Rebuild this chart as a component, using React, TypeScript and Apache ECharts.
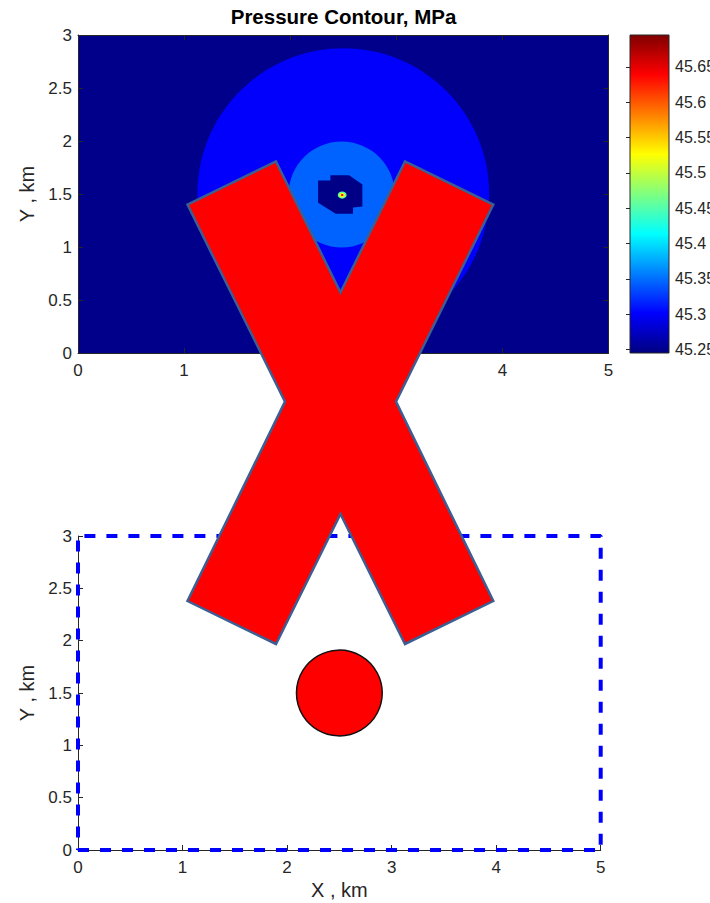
import React, { useEffect, useRef } from 'react';
import * as echarts from 'echarts';

// ---------- data ----------
const xTicks = [0, 1, 2, 3, 4, 5];
const yTicks = [0, 0.5, 1, 1.5, 2, 2.5, 3];
const colorbarTicks = [45.25, 45.3, 45.35, 45.4, 45.45, 45.5, 45.55, 45.6, 45.65];
const colorRange = [45.245, 45.695];

const backgroundPressure = 45.25;
const outerZoneCenter = [2.5, 1.5];
const outerZoneRadius = 1.375;
const outerZonePressure = 45.3;
const innerZoneCenter = [2.485, 1.495];
const innerZoneRadius = 0.5;
const innerZonePressure = 45.345;
const lowZonePolygon = [
  [2.263, 1.628], [2.379, 1.628], [2.379, 1.678], [2.555, 1.678], [2.68, 1.59],
  [2.68, 1.382], [2.592, 1.372], [2.592, 1.313], [2.429, 1.313], [2.263, 1.417],
];
const lowZonePressure = 45.248;
const wellCenter = [2.49, 1.49];
const wellRadiiX = [0.042, 0.027, 0.012];
const wellRadiiY = [0.034, 0.022, 0.01];
const wellPressures = [45.45, 45.53, 45.64];

// red "X" annotation, in km of the upper plot
const crossVertices = [
  [1.032, 1.4], [1.866, 1.807], [2.474, 0.571], [3.082, 1.807], [3.914, 1.4], [2.997, -0.459],
  [3.914, -2.34], [3.082, -2.745], [2.474, -1.519], [1.866, -2.745], [1.032, -2.34], [1.951, -0.459],
];

const domainRect = [[0, 0], [5, 0], [5, 3], [0, 3], [0, 0]];
const wellboreCenter = [2.5, 1.5];
const wellboreRadius = 0.41;

// ---------- helpers ----------
function jet(v: number): string {
  const t = (v - colorRange[0]) / (colorRange[1] - colorRange[0]);
  const c = (x: number) => Math.round(255 * Math.max(0, Math.min(1, x)));
  const r = c(Math.min(4 * t - 1.5, -4 * t + 4.5));
  const g = c(Math.min(4 * t - 0.5, -4 * t + 3.5));
  const b = c(Math.min(4 * t + 0.5, -4 * t + 2.5));
  return `rgb(${r},${g},${b})`;
}

const FONT = '"Liberation Sans", Arial, Helvetica, sans-serif';
const TXT = '#262626';
const TICK_FS = 17;
const NAME_FS = 20;

function axisCommon(extra: any) {
  return {
    type: 'value',
    splitLine: { show: false },
    axisLine: { show: true, onZero: false, lineStyle: { color: TXT, width: 1 } },
    axisTick: { show: true, inside: true, length: 5, lineStyle: { color: TXT } },
    axisLabel: { show: true, color: TXT, fontSize: TICK_FS, fontFamily: FONT, margin: 9 },
    nameTextStyle: { color: TXT, fontSize: NAME_FS, fontFamily: FONT },
    nameMoveOverlap: false,
    ...extra,
  };
}

export default function App() {
  const ref = useRef<HTMLDivElement>(null);
  useEffect(() => {
    if (!ref.current) return;
    const chart = echarts.init(ref.current, undefined, { renderer: 'svg' });
    const xMin = xTicks[0], xMax = xTicks[xTicks.length - 1];
    const yMin = yTicks[0], yMax = yTicks[yTicks.length - 1];

    const option: any = {
      animation: false,
      backgroundColor: '#ffffff',
      grid: [
        { left: 78, top: 35, width: 530.5, height: 318, outerBoundsMode: 'none' },
        { left: 78, top: 536, width: 522.7, height: 314, outerBoundsMode: 'none' },
        { left: 630, top: 35, width: 39, height: 318, outerBoundsMode: 'none' },
      ],
      xAxis: [
        axisCommon({ gridIndex: 0, position: 'bottom', min: xMin, max: xMax, interval: 1, z: 10 }),
        axisCommon({ gridIndex: 0, position: 'top', min: xMin, max: xMax, interval: 1, z: 10, axisLabel: { show: false } }),
        axisCommon({
          gridIndex: 1, position: 'bottom', min: xMin, max: xMax, interval: 1,
          name: 'X , km', nameLocation: 'middle', nameGap: 30,
        }),
        { gridIndex: 2, type: 'value', min: 0, max: 1, show: false },
      ],
      yAxis: [
        axisCommon({
          gridIndex: 0, position: 'left', min: yMin, max: yMax, interval: 0.5, z: 10,
          name: 'Y , km', nameLocation: 'middle', nameGap: 41,
          axisLabel: { color: TXT, fontSize: TICK_FS, fontFamily: FONT, margin: 6 },
        }),
        axisCommon({ gridIndex: 0, position: 'right', min: yMin, max: yMax, interval: 0.5, z: 10, axisLabel: { show: false } }),
        axisCommon({
          gridIndex: 1, position: 'left', min: yMin, max: yMax, interval: 0.5,
          name: 'Y , km', nameLocation: 'middle', nameGap: 41,
          axisLabel: { color: TXT, fontSize: TICK_FS, fontFamily: FONT, margin: 6 },
        }),
        {
          gridIndex: 2, type: 'value', position: 'right', min: colorRange[0], max: colorRange[1],
          splitLine: { show: false },
          axisLine: { show: false },
          axisTick: { show: true, inside: true, length: 4, customValues: colorbarTicks, lineStyle: { color: TXT } },
          axisLabel: {
            show: true, customValues: colorbarTicks, color: TXT, fontSize: 16, fontFamily: FONT, margin: 6,
            formatter: (v: number) => String(Number(v.toFixed(2))),
          },
          z: 10,
        },
      ],
      graphic: [
        {
          type: 'text', x: 343.5, y: 16, z: 20,
          style: {
            text: 'Pressure Contour, MPa', fontSize: 20.5, fontWeight: 'bold', fontFamily: FONT,
            fill: '#000', align: 'center', verticalAlign: 'middle',
          },
        },
      ],
      series: [
        // pressure contour (upper plot)
        {
          type: 'custom', xAxisIndex: 0, yAxisIndex: 0, z: 2, clip: true, silent: true,
          data: [[xMin, yMin]],
          renderItem: (params: any, api: any) => {
            const tl = api.coord([xMin, yMax]);
            const br = api.coord([xMax, yMin]);
            const children: any[] = [];
            children.push({
              type: 'rect', shape: { x: tl[0], y: tl[1], width: br[0] - tl[0], height: br[1] - tl[1] },
              style: { fill: jet(backgroundPressure) },
            });
            const oc = api.coord(outerZoneCenter);
            const os = api.size([outerZoneRadius, outerZoneRadius]);
            children.push({ type: 'ellipse', shape: { cx: oc[0], cy: oc[1], rx: os[0], ry: os[1] }, style: { fill: jet(outerZonePressure) } });
            const ic = api.coord(innerZoneCenter);
            const is = api.size([innerZoneRadius, innerZoneRadius]);
            children.push({ type: 'ellipse', shape: { cx: ic[0], cy: ic[1], rx: is[0], ry: is[1] }, style: { fill: jet(innerZonePressure) } });
            children.push({
              type: 'polygon', shape: { points: lowZonePolygon.map((p) => api.coord(p)) },
              style: { fill: jet(lowZonePressure) },
            });
            const wc = api.coord(wellCenter);
            wellPressures.forEach((p, i) => {
              const s = api.size([wellRadiiX[i], wellRadiiY[i]]);
              children.push({ type: 'ellipse', shape: { cx: wc[0], cy: wc[1], rx: s[0], ry: s[1] }, style: { fill: jet(p) } });
            });
            return { type: 'group', children };
          },
        },
        // colorbar
        {
          type: 'custom', xAxisIndex: 3, yAxisIndex: 3, z: 2, silent: true,
          data: [[0, colorRange[0]]],
          renderItem: (params: any, api: any) => {
            const tl = api.coord([0, colorRange[1]]);
            const br = api.coord([1, colorRange[0]]);
            return {
              type: 'rect',
              shape: { x: tl[0], y: tl[1], width: br[0] - tl[0], height: br[1] - tl[1] },
              style: {
                fill: new echarts.graphic.LinearGradient(0, 1, 0, 0, [
                  { offset: 0, color: jet(colorRange[0]) },
                  { offset: 0.125, color: '#0000FF' },
                  { offset: 0.375, color: '#00FFFF' },
                  { offset: 0.625, color: '#FFFF00' },
                  { offset: 0.875, color: '#FF0000' },
                  { offset: 1, color: '#800000' },
                ]),
                stroke: TXT, lineWidth: 1,
              },
            };
          },
        },
        // domain boundary (lower plot)
        {
          type: 'line', xAxisIndex: 2, yAxisIndex: 2, z: 3, clip: false, silent: true,
          data: domainRect, symbol: 'none',
          lineStyle: { color: '#0000FF', width: 4, type: [11, 11] },
        },
        // wellbore (lower plot)
        {
          type: 'custom', xAxisIndex: 2, yAxisIndex: 2, z: 4, silent: true,
          data: [wellboreCenter],
          renderItem: (params: any, api: any) => {
            const c = api.coord([api.value(0), api.value(1)]);
            const s = api.size([wellboreRadius, wellboreRadius]);
            return {
              type: 'circle', shape: { cx: c[0], cy: c[1], r: (s[0] + s[1]) / 2 },
              style: { fill: '#FF0000', stroke: '#111', lineWidth: 1.5 },
            };
          },
        },
        // red X overlay
        {
          type: 'custom', xAxisIndex: 0, yAxisIndex: 0, z: 50, clip: false, silent: true,
          data: [[xMin, yMin]],
          renderItem: (params: any, api: any) => ({
            type: 'polygon',
            shape: { points: crossVertices.map((p) => api.coord(p)) },
            style: { fill: '#FF0000', stroke: '#3C5E92', lineWidth: 2.5, lineJoin: 'miter' },
            z2: 100,
          }),
        },
      ],
    };
    chart.setOption(option);
    return () => chart.dispose();
  }, []);
  return (
    <div
      ref={ref}
      style={{ position: 'absolute', left: 0, top: 0, width: 710, height: 903 }}
    />
  );
}
